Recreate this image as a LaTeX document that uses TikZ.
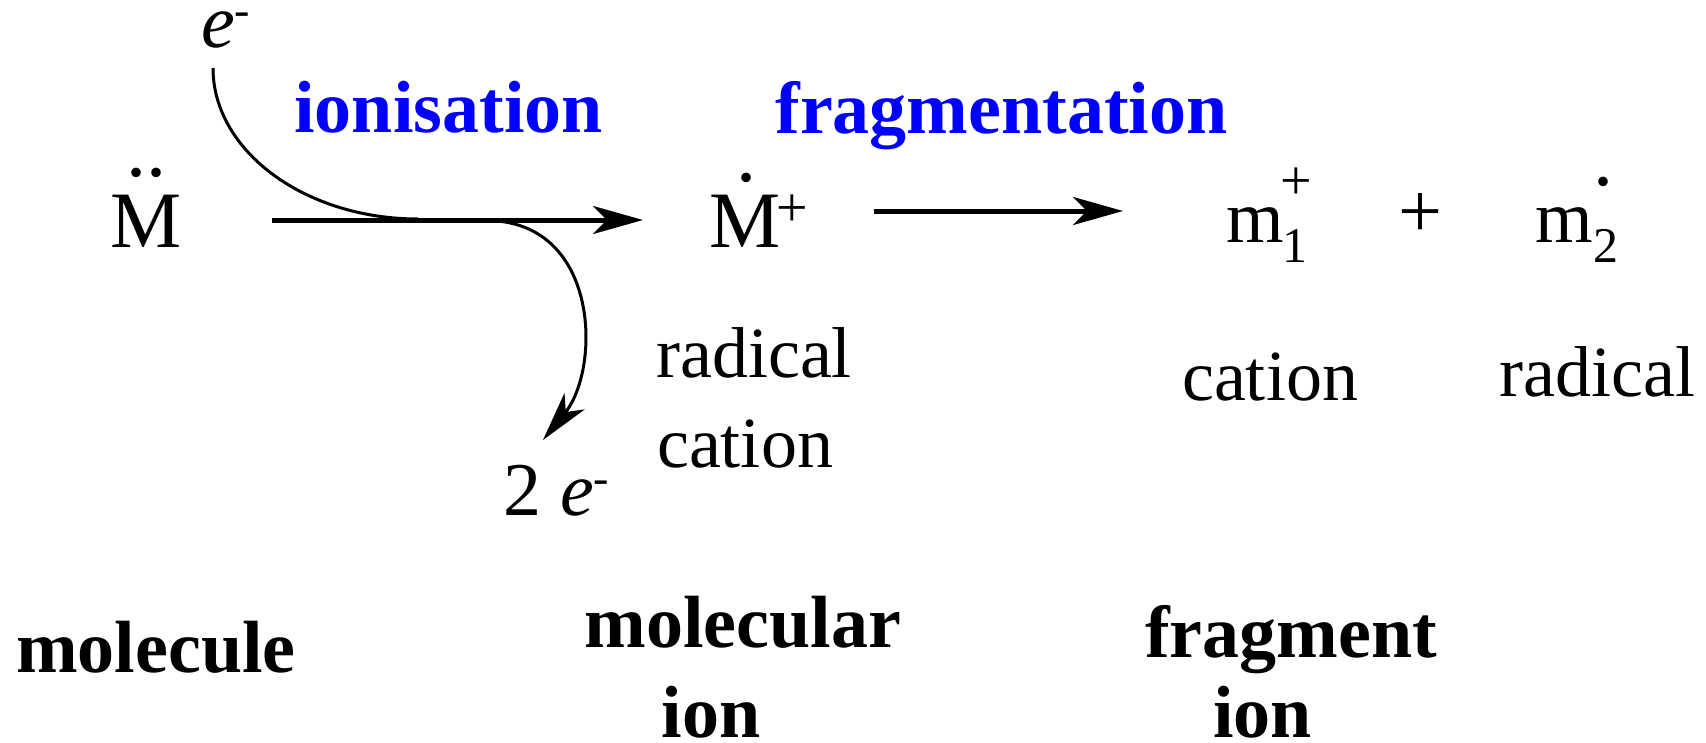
\documentclass[tikz,border=0pt]{standalone}
\usepackage{fontspec}
\setmainfont{Liberation Serif}
\usetikzlibrary{arrows.meta}
\definecolor{ionblue}{RGB}{0,0,255}
\begin{document}
\begin{tikzpicture}[x=1pt,y=-1pt,
  txt/.style={inner sep=0pt, anchor=base, font=\fontsize{72}{80}\selectfont},
  head/.style={inner sep=0pt, anchor=base, text=ionblue, font=\fontsize{74}{80}\selectfont\bfseries},
  caption/.style={inner sep=0pt, anchor=base, font=\fontsize{74}{80}\selectfont\bfseries},
  sym/.style={inner sep=0pt, anchor=base, font=\fontsize{80}{80}\selectfont},
  msym/.style={inner sep=0pt, anchor=base, font=\fontsize{74}{80}\selectfont},
  subs/.style={inner sep=0pt, anchor=base, font=\fontsize{50}{50}\selectfont},
  supr/.style={inner sep=0pt, anchor=center, font=\fontsize{56}{56}\selectfont},
  bigplus/.style={inner sep=0pt, anchor=center, font=\fontsize{78}{80}\selectfont},
  dotmark/.style={inner sep=0pt, anchor=center, font=\fontsize{80}{80}\selectfont},
  elec/.style={inner sep=0pt, anchor=base west, font=\fontsize{76}{80}\selectfont},
  mainarrow/.style={line width=5pt, -{Stealth[length=50pt,width=28pt,inset=14pt]}},
  eline/.style={line width=3pt},
]
\useasboundingbox (0,0) rectangle (1706,742);

% species
\node[sym] (M) at (146,247) {M};
\node[dotmark] (Md1) at (136.5,173) {.};
\node[dotmark] (Md2) at (156,173) {.};
\node[sym] (Mp) at (745.5,247) {M};
\node[dotmark] (Mpd) at (746,178) {.};
\node[supr] (Mpp) at (792,211) {+};
\node[msym] (m1) at (1255.5,242) {m};
\node[subs] (m1s) at (1294.5,262) {1};
\node[supr] (m1p) at (1296.5,184) {+};
\node[bigplus] (plus) at (1420.5,215) {+};
\node[msym] (m2) at (1564,242) {m};
\node[subs] (m2s) at (1605.5,262) {2};
\node[dotmark] (m2d) at (1603,182) {.};

% electrons
\node[elec] (e1) at (201,47) {\itshape e\raisebox{22pt}{\fontsize{46}{46}\selectfont -}};
\node[elec] (e2) at (503,515) {2 {\itshape e}\raisebox{22pt}{\fontsize{46}{46}\selectfont -}};

% labels
\node[head] (ion) at (448.5,132) {ionisation};
\node[head] (frag) at (1001.5,133) {fragmentation};
\node[txt] (rad1) at (754,377) {radical};
\node[txt] (cat1) at (745,467) {cation};
\node[txt] (cat2) at (1270,400) {cation};
\node[txt] (rad2) at (1597.5,396) {radical};
\node[caption] (mol) at (156,672) {molecule};
\node[caption] (molion1) at (743,647) {molecular};
\node[caption] (molion2) at (711,737) {ion};
\node[caption] (fr1) at (1291,657) {fragment};
\node[caption] (fr2) at (1262.5,737) {ion};

% connector end points
\coordinate (a1s) at (272,220);
\coordinate (a1e) at (643,220);
\coordinate (c1s) at (213,68);
\coordinate (c1e) at (418,219);
\coordinate (c2s) at (497,221);
\coordinate (c2e) at (543,440);
\coordinate (a2s) at (874,211);
\coordinate (a2e) at (1123,211);

\draw[mainarrow] (a1s) -- (a1e);
\draw[mainarrow] (a2s) -- (a2e);
\draw[eline] (c1s) .. controls (213,151) and (305,219) .. (c1e);
\draw[eline, -{Stealth[length=50pt,width=26pt,inset=14pt]}] (c2s) .. controls (600,230) and (600,370) .. (c2e);
\end{tikzpicture}
\end{document}
